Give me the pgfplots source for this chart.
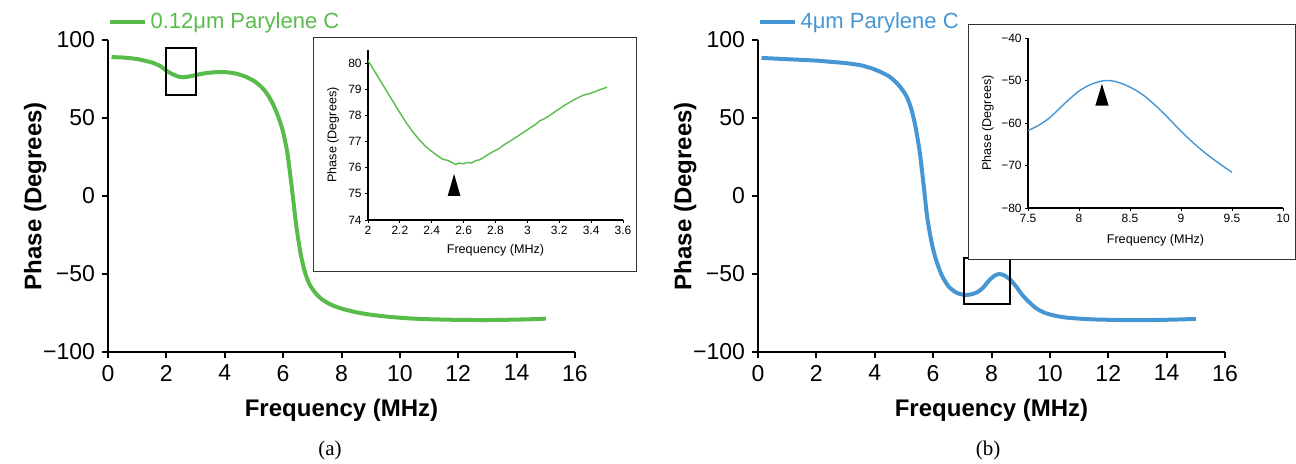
\documentclass[border=0pt]{standalone}
\usepackage{fontspec}
\setmainfont{Liberation Sans}
\newfontfamily\capfont{Liberation Serif}
\usepackage{pgfplots}
\pgfplotsset{compat=1.18}

\definecolor{pgreen}{RGB}{88,188,74}
\definecolor{pblue}{RGB}{70,150,212}

\pgfplotsset{
  mainax/.style={
    scale only axis, width=233.5pt, height=156pt, anchor=south west,
    axis lines=left, axis line style={-, line width=1pt},
    xmin=0, xmax=16, ymin=-100, ymax=100,
    xtick={0,2,4,6,8,10,12,14,16}, ytick={-100,-50,0,50,100},
    yticklabels={−100,−50,0,50,100},
    tick align=outside, major tick length=3pt,
    tick style={line width=1pt, black},
    /pgf/number format/assume math mode=true,
    tick label style={font=\fontsize{11.5}{12}\selectfont},
    xlabel={Frequency (MHz)}, ylabel={Phase (Degrees)},
    label style={font=\bfseries\fontsize{12}{13}\selectfont},
    xlabel style={at={(axis description cs:0.5,-0.186)}, anchor=center},
    ylabel style={at={(axis description cs:-0.156,0.5)}, anchor=center},
    legend style={draw=none, fill=none, at={(axis description cs:0.0,1.058)},
      anchor=west, inner sep=0pt, font=\fontsize{11}{12}\selectfont},
    legend cell align=left,
  },
  insetax/.style={
    scale only axis, width=127.5pt, height=85pt, anchor=south west,
    axis lines=left, axis line style={-, line width=0.6pt},
    tick align=outside, major tick length=1.5pt,
    tick style={line width=0.5pt, black},
    /pgf/number format/assume math mode=true,
    tick label style={font=\fontsize{6}{7}\selectfont, inner sep=1.5pt},
    label style={font=\fontsize{6.3}{7}\selectfont},
    xlabel={Frequency (MHz)}, ylabel={Phase (Degrees)},
  },
}

\begin{document}
\begin{tikzpicture}
\useasboundingbox (0,0) rectangle (648pt,231.5pt);

% (a) main
\begin{axis}[mainax, at={(54pt,55.5pt)}]
\addplot[pgreen, line width=2pt, smooth, tension=0.4] coordinates {
(0.12,89)(0.5,88.8)(1.0,87.8)(1.5,85.6)(1.8,83.2)(2.0,80.3)(2.2,78.2)(2.4,76.6)
(2.56,76.1)(2.7,76.35)(2.9,77.1)(3.1,77.9)(3.3,78.6)(3.5,79.1)(3.8,79.5)(4.1,79.3)
(4.4,78.4)(4.7,76.6)(5.0,73.8)(5.25,70)(5.45,65.5)(5.65,59)(5.85,50)(6.0,41)
(6.15,27)(6.3,5)(6.45,-19)(6.6,-37)(6.75,-49)(6.9,-56.5)(7.1,-62)(7.3,-65.8)
(7.55,-68.8)(7.8,-70.9)(8.1,-72.7)(8.5,-74.5)(9.0,-76.1)(9.6,-77.4)(10.3,-78.4)
(11.0,-79.0)(12.0,-79.4)(13.0,-79.5)(13.8,-79.3)(14.5,-79.0)(15,-78.6)
};
\addlegendentry{\textcolor{pgreen}{0.12μm Parylene C}}
\draw[line width=1pt] (axis cs:2,65) rectangle (axis cs:3,95);
\end{axis}

% (a) inset
\draw[line width=0.5pt, fill=white, draw=black!80] (156.5pt,96pt) rectangle (318pt,213pt);
\begin{axis}[insetax, at={(184pt,121.5pt)},
  xmin=2, xmax=3.6, ymin=74, ymax=80.5,
  xtick={2,2.2,2.4,2.6,2.8,3,3.2,3.4,3.6}, ytick={74,75,76,77,78,79,80},
  xlabel style={at={(axis description cs:0.5,-0.18)}, anchor=center},
  ylabel style={at={(axis description cs:-0.137,0.5)}, anchor=center}]
\addplot[pgreen, line width=0.7pt] coordinates {
(2.0,80.1)(2.03,79.8)(2.06,79.5)(2.1,79.1)(2.13,78.8)(2.16,78.5)(2.2,78.1)
(2.24,77.72)(2.28,77.38)(2.32,77.08)(2.36,76.82)(2.4,76.62)(2.44,76.44)(2.47,76.32)
(2.5,76.28)(2.52,76.22)(2.55,76.12)(2.57,76.18)(2.6,76.15)(2.62,76.2)(2.65,76.18)
(2.68,76.28)(2.7,76.3)(2.74,76.45)(2.78,76.6)(2.82,76.72)(2.86,76.9)(2.9,77.05)
(2.95,77.25)(3.0,77.45)(3.05,77.65)(3.08,77.8)(3.1,77.85)(3.14,78.0)(3.2,78.25)
(3.25,78.45)(3.3,78.62)(3.35,78.77)(3.4,78.85)(3.45,78.97)(3.5,79.08)
};
\addplot[fill=black, draw=none] coordinates {(2.50,74.92)(2.58,74.92)(2.54,75.76)} -- cycle;
\end{axis}

% (b) main
\begin{axis}[mainax, at={(379pt,55.5pt)}]
\addplot[pblue, line width=2pt, smooth, tension=0.4] coordinates {
(0.12,88.5)(1,87.7)(2,86.8)(2.5,86)(3,85.2)(3.5,83.9)(3.9,81.8)(4.2,79.5)(4.5,76.6)
(4.75,72.5)(4.95,68)(5.1,63.5)(5.25,56)(5.4,44)(5.55,27)(5.68,6)(5.8,-14)(5.95,-30)
(6.1,-41)(6.3,-51)(6.53,-58)(6.8,-62)(7.1,-63.5)(7.3,-63)(7.5,-61.8)(7.7,-59)
(7.9,-54.5)(8.1,-51.1)(8.27,-50)(8.45,-51)(8.65,-53.8)(8.85,-58.2)(9.05,-63.3)
(9.25,-67.3)(9.5,-71.6)(9.65,-73.3)(9.8,-74.7)(10.0,-75.9)(10.3,-77.2)(10.7,-78.2)
(11.5,-79.1)(12.5,-79.5)(13.5,-79.5)(14.3,-79.2)(15,-78.8)
};
\addlegendentry{\textcolor{pblue}{4μm Parylene C}}
\draw[line width=1pt] (axis cs:7.07,-69) rectangle (axis cs:8.62,-39.7);
\end{axis}

% (b) inset
\draw[line width=0.5pt, fill=white, draw=black!80] (484pt,102pt) rectangle (647.5pt,219.5pt);
\begin{axis}[insetax, at={(514pt,127.5pt)},
  xmin=7.5, xmax=10, ymin=-80, ymax=-40,
  xtick={7.5,8,8.5,9,9.5,10}, ytick={-80,-70,-60,-50,-40},
  yticklabels={−80,−70,−60,−50,−40},
  xlabel style={at={(axis description cs:0.5,-0.188)}, anchor=center},
  ylabel style={at={(axis description cs:-0.157,0.5)}, anchor=center}]
\addplot[pblue, line width=0.7pt, smooth] coordinates {
(7.5,-61.8)(7.6,-60.6)(7.7,-59.0)(7.8,-56.8)(7.9,-54.5)(8.0,-52.5)(8.1,-51.1)
(8.2,-50.25)(8.27,-50)(8.35,-50.2)(8.45,-51.0)(8.55,-52.2)(8.65,-53.8)(8.75,-55.9)
(8.85,-58.2)(8.95,-60.7)(9.05,-63.1)(9.15,-65.3)(9.25,-67.3)(9.35,-69.1)(9.45,-70.8)(9.5,-71.6)
};
\addplot[fill=black, draw=none] coordinates {(8.16,-55.9)(8.29,-55.9)(8.225,-50.8)} -- cycle;
\end{axis}

\node[font=\capfont\fontsize{10.5}{12}\selectfont] at (165pt,6.5pt) {(a)};
\node[font=\capfont\fontsize{10.5}{12}\selectfont] at (494pt,6.5pt) {(b)};
\end{tikzpicture}
\end{document}
